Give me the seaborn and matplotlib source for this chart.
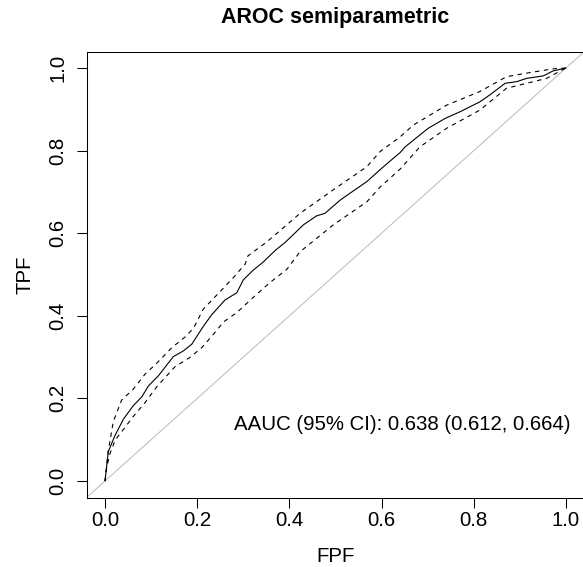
import matplotlib
matplotlib.use("Agg")
import matplotlib.pyplot as plt
import seaborn as sns
import pandas as pd

# AROC estimate and pointwise 95% band
fpf = [0.0, 0.007, 0.022, 0.040, 0.061, 0.080, 0.094, 0.116, 0.148, 0.170,
       0.188, 0.213, 0.231, 0.260, 0.286, 0.300, 0.322, 0.343, 0.370, 0.390,
       0.408, 0.430, 0.459, 0.477, 0.510, 0.542, 0.568, 0.600, 0.625, 0.640,
       0.651, 0.701, 0.738, 0.770, 0.813, 0.835, 0.868, 0.893, 0.915, 0.951,
       0.972, 1.0]
tpf = [0.0, 0.071, 0.111, 0.150, 0.182, 0.204, 0.230, 0.255, 0.301, 0.315,
       0.331, 0.374, 0.402, 0.438, 0.456, 0.487, 0.511, 0.530, 0.559, 0.577,
       0.596, 0.620, 0.642, 0.648, 0.680, 0.705, 0.725, 0.757, 0.781, 0.795,
       0.809, 0.854, 0.878, 0.894, 0.918, 0.935, 0.963, 0.967, 0.975, 0.981,
       0.993, 1.0]

fpf_up = [0.0, 0.007, 0.018, 0.036, 0.061, 0.087, 0.112, 0.145, 0.174, 0.192,
          0.213, 0.249, 0.278, 0.304, 0.310, 0.351, 0.394, 0.423, 0.495, 0.568,
          0.597, 0.640, 0.669, 0.741, 0.813, 0.871, 0.922, 0.972, 1.0]
tpf_up = [0.0, 0.073, 0.144, 0.196, 0.222, 0.259, 0.285, 0.323, 0.349, 0.370,
          0.416, 0.458, 0.492, 0.525, 0.545, 0.579, 0.620, 0.648, 0.705, 0.761,
          0.798, 0.833, 0.862, 0.910, 0.943, 0.979, 0.989, 0.998, 1.0]

fpf_lo = [0.0, 0.004, 0.011, 0.022, 0.040, 0.061, 0.087, 0.112, 0.152, 0.184,
          0.210, 0.235, 0.257, 0.286, 0.322, 0.355, 0.394, 0.423, 0.495, 0.568,
          0.597, 0.640, 0.683, 0.741, 0.813, 0.871, 0.922, 0.958, 1.0]
tpf_lo = [0.0, 0.035, 0.067, 0.099, 0.125, 0.156, 0.190, 0.228, 0.277, 0.299,
          0.323, 0.355, 0.385, 0.408, 0.445, 0.478, 0.512, 0.555, 0.620, 0.676,
          0.712, 0.755, 0.809, 0.854, 0.898, 0.951, 0.965, 0.975, 1.0]

ticks = [0.0, 0.2, 0.4, 0.6, 0.8, 1.0]
tick_labels = ["0.0", "0.2", "0.4", "0.6", "0.8", "1.0"]
aauc_text = "AAUC (95% CI): 0.638 (0.612, 0.664)"

sns.set_style("ticks")
plt.rcParams["font.family"] = ["Liberation Sans", "DejaVu Sans"]
plt.rcParams.update({"text.color": "black", "axes.labelcolor": "black",
                     "xtick.color": "black", "ytick.color": "black"})

FS = 14.7
W, H = 583, 567
fig = plt.figure(figsize=(W / 100, H / 100), dpi=100)
# plot region like R's default box, right edge falls just outside the image
ax = fig.add_axes([86.6 / W, 1 - 497.5 / H, 497.8 / W, 446 / H])

est = pd.DataFrame({"FPF": fpf, "TPF": tpf})
up = pd.DataFrame({"FPF": fpf_up, "TPF": tpf_up})
lo = pd.DataFrame({"FPF": fpf_lo, "TPF": tpf_lo})

ax.plot([-0.04, 1.04], [-0.04, 1.04], color="#BEBEBE", lw=0.75)
sns.lineplot(data=est, x="FPF", y="TPF", ax=ax, color="black", lw=0.8,
             estimator=None, sort=False)
for band in (up, lo):
    sns.lineplot(data=band, x="FPF", y="TPF", ax=ax, color="black", lw=0.8,
                 estimator=None, sort=False, linestyle=(0, (4, 4)))

ax.text(1.01, 0.136, aauc_text, ha="right", va="center", fontsize=FS,
        color="black")

ax.set_xlim(-0.04, 1.04)
ax.set_ylim(-0.04, 1.04)
ax.set_xticks(ticks)
ax.set_xticklabels(tick_labels)
ax.set_yticks(ticks)
ax.set_yticklabels(tick_labels, rotation=90, va="center")
ax.tick_params(length=7.2, width=0.75, labelsize=FS, color="black",
               labelcolor="black")
ax.tick_params(axis="x", pad=2.2)
ax.tick_params(axis="y", pad=6.5)
for s in ax.spines.values():
    s.set_linewidth(0.75)
    s.set_color("black")

ax.set_xlabel("FPF", fontsize=FS, va="center", color="black")
ax.xaxis.set_label_coords(0.5, (497.5 - 556.7) / 446)
ax.set_ylabel("TPF", fontsize=FS, va="center", color="black")
ax.yaxis.set_label_coords((25 - 86.6) / 497.8, 0.5)
fig.text(335.5 / W, 1 - 17.5 / H, "AROC semiparametric", ha="center", va="center",
         fontsize=15.5, fontweight="bold", color="black")

fig.savefig("out.png", dpi=100)
plt.close()
